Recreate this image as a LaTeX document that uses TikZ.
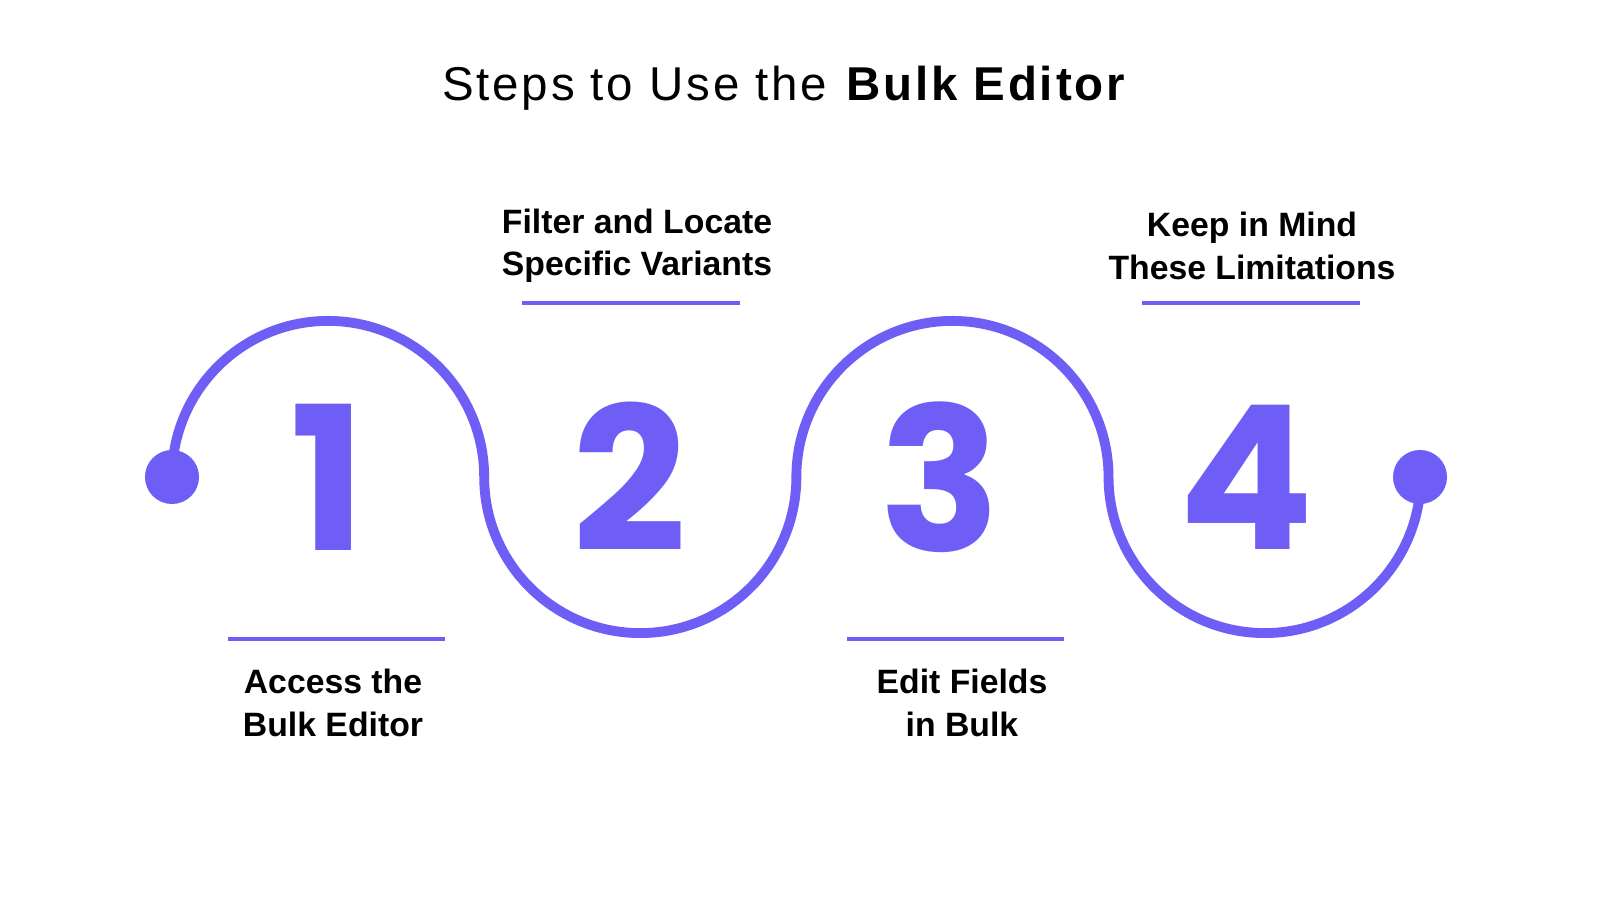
\documentclass[tikz,border=0pt]{standalone}
\usepackage{fontspec}
\setmainfont{Liberation Sans}
\newfontfamily\digitfont{Poppins}
\newfontfamily\titlefont[LetterSpace=6]{Liberation Sans}
\definecolor{wave}{HTML}{6E5EF6}
\begin{document}
\begin{tikzpicture}[x=0.01cm,y=0.01cm,
  lbl/.style={align=center,font=\bfseries\fontsize{9.6}{12}\selectfont},
  num/.style={text=wave,font=\digitfont\bfseries\fontsize{57}{57}\selectfont},
  uline/.style={wave,line width=1pt}]
\useasboundingbox[fill=white] (0,0) rectangle (1600,900);
\node (title) at (785,812) {\titlefont\fontsize{13.5}{16}\selectfont Steps to Use the \textbf{Bulk Editor}};
\coordinate (s) at (172,423);
\coordinate (e) at (1420,423);
\draw[wave,line width=2.8pt] (s) arc[start angle=180,end angle=0,radius=1.56cm]
  arc[start angle=180,end angle=360,radius=1.56cm]
  arc[start angle=180,end angle=0,radius=1.56cm]
  arc[start angle=180,end angle=360,radius=1.56cm];
\fill[wave] (s) circle (0.27cm);
\fill[wave] (e) circle (0.27cm);
\node[num] (n1) at (328,423) {1};
\node[num] (n2) at (630,423) {2};
\node[num] (n3) at (940,423) {3};
\node[num] (n4) at (1246,423) {4};
\draw[uline] (522,597) -- (740,597);
\draw[uline] (1142,597) -- (1360,597);
\draw[uline] (228,261) -- (445,261);
\draw[uline] (847,261) -- (1064,261);
\node[lbl] (l2) at (637,654) {Filter and Locate\\Specific Variants};
\node[lbl] (l4) at (1252,654) {Keep in Mind\\These Limitations};
\node[lbl] (l1) at (333,197) {Access the\\Bulk Editor};
\node[lbl] (l3) at (962,197) {Edit Fields\\in Bulk};
\end{tikzpicture}
\end{document}
